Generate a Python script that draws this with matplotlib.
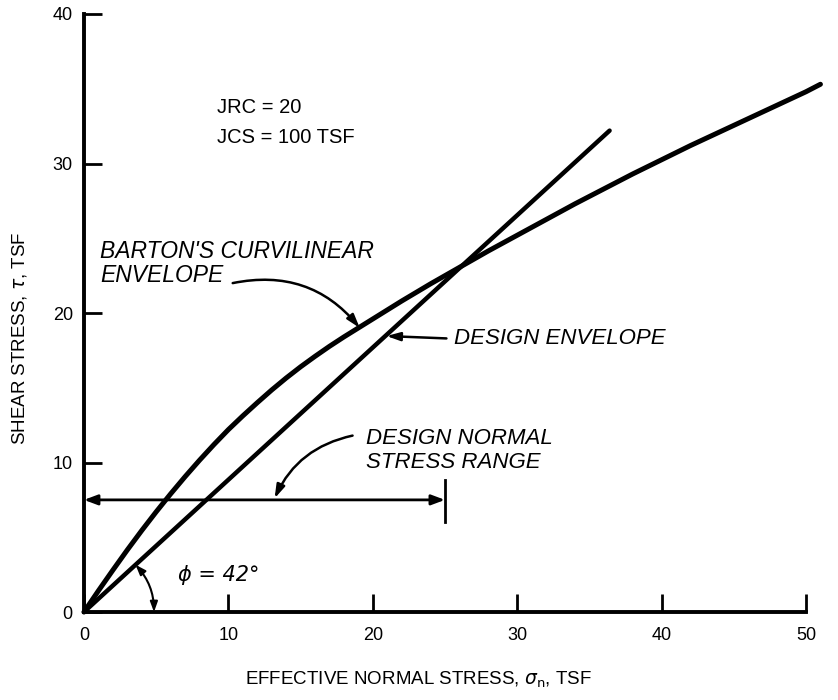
import matplotlib.pyplot as plt
import numpy as np

plt.rcParams['font.family'] = ['Liberation Sans', 'DejaVu Sans']

# Barton's curvilinear envelope
barton_sigma = [0, 1, 2, 3, 4, 5, 6, 7, 8, 9, 10, 11, 12, 13, 14, 15, 16, 17, 18, 20, 22,
                24, 26, 28, 30, 32, 34, 36, 38, 40, 42, 44, 46, 48, 50, 51]
barton_tau = [0, 1.42, 2.8, 4.15, 5.45, 6.7, 7.9, 9.05, 10.15, 11.2, 12.2, 13.12, 14.0,
              14.85, 15.65, 16.4, 17.1, 17.77, 18.4, 19.6, 20.8, 21.95, 23.05, 24.15, 25.2,
              26.25, 27.3, 28.3, 29.3, 30.25, 31.2, 32.1, 33.0, 33.9, 34.8, 35.3]

# design envelope (phi = 42 deg line)
design_sigma = [0, 36.4]
design_tau = [0, 32.2]

# design normal stress range
range_sigma = [0, 25]
range_tau = 7.5

xticks = [0, 10, 20, 30, 40, 50]
yticks = [0, 10, 20, 30, 40]

fig = plt.figure(figsize=(8.38, 7.0), dpi=100)
ax = fig.add_axes([0.1002, 0.1257, 0.8616, 0.8543])

ax.plot(barton_sigma, barton_tau, color='black', lw=3.6, solid_capstyle='round',
        solid_joinstyle='round', clip_on=False)
ax.plot(design_sigma, design_tau, color='black', lw=3.2, solid_capstyle='round', clip_on=False)

# range arrow with end bar
ax.annotate('', xy=(range_sigma[0], range_tau), xytext=(range_sigma[1], range_tau),
            arrowprops=dict(arrowstyle='<|-|>,head_length=0.8,head_width=0.3', color='black',
                            lw=2, shrinkA=0, shrinkB=0))
ax.plot([range_sigma[1], range_sigma[1]], [6.0, 8.8], color='black', lw=2)

ax.set_xlim(0, 50)
ax.set_ylim(0, 40)
ax.set_xticks(xticks)
ax.set_yticks(yticks)
for s in ['top', 'right']:
    ax.spines[s].set_visible(False)
for s in ['left', 'bottom']:
    ax.spines[s].set_linewidth(2.8)
ax.tick_params(direction='in', length=13, width=2, labelsize=13)
ax.tick_params(axis='x', pad=11)
ax.tick_params(axis='y', pad=8)

ax.set_xlabel(r'EFFECTIVE NORMAL STRESS, $\sigma_{\rm n}$, TSF', fontsize=13.5)
ax.set_ylabel(r'SHEAR STRESS, $\tau$, TSF', fontsize=13.5)
ax.xaxis.set_label_coords(0.463, -0.097)
ax.yaxis.set_label_coords(-0.076, 0.458)

ax.text(9.2, 32.75, 'JRC = 20\nJCS = 100 TSF', fontsize=14.5, va='center', ha='left',
        linespacing=1.75)

ax.text(1.1, 23.3, "BARTON'S CURVILINEAR\nENVELOPE", fontsize=16.5, style='italic',
        va='center', ha='left', linespacing=1.05)
ax.annotate('', xy=(19.1, 19.0), xytext=(10.3, 22.0),
            arrowprops=dict(arrowstyle='-|>,head_length=0.8,head_width=0.25', color='black',
                            lw=1.8, shrinkA=0, shrinkB=0, connectionstyle='arc3,rad=-0.3'))

ax.text(25.6, 18.3, 'DESIGN ENVELOPE', fontsize=16, style='italic', va='center', ha='left')
ax.annotate('', xy=(20.95, 18.46), xytext=(25.1, 18.3),
            arrowprops=dict(arrowstyle='-|>,head_length=0.8,head_width=0.25', color='black',
                            lw=1.8, shrinkA=0, shrinkB=0))

ax.text(19.5, 10.8, 'DESIGN NORMAL\nSTRESS RANGE', fontsize=16, style='italic',
        va='center', ha='left', linespacing=1.15)
ax.annotate('', xy=(13.2, 7.6), xytext=(18.6, 11.8),
            arrowprops=dict(arrowstyle='-|>,head_length=0.8,head_width=0.25', color='black',
                            lw=1.8, shrinkA=0, shrinkB=0, connectionstyle='arc3,rad=0.25'))

# phi angle arc
ax.annotate('', xy=(3.57, 3.16), xytext=(4.85, 0),
            arrowprops=dict(arrowstyle='<|-|>,head_length=0.6,head_width=0.22', color='black',
                            lw=1.5, shrinkA=0, shrinkB=0, connectionstyle='arc3,rad=0.19'))
ax.text(6.5, 2.5, '\u03d5 = 42\u00b0', fontsize=15, style='italic', va='center', ha='left',
        family=['DejaVu Sans'])

fig.savefig('out.png', dpi=100)
